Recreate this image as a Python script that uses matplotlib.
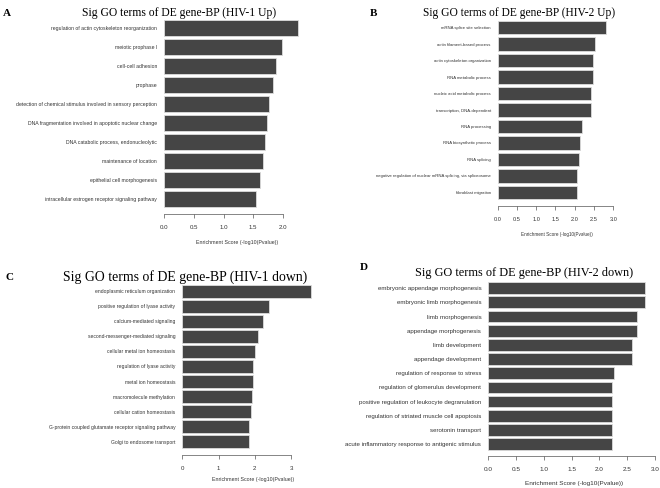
import numpy as np
import matplotlib
matplotlib.use('Agg')
import matplotlib.pyplot as plt

W, H = 660, 488

# panel A: HIV-1 up
terms_a = ['regulation of actin cytoskeleton reorganization', 'meiotic prophase I', 'cell-cell adhesion',
           'prophase', 'detection of chemical stimulus involved in sensory perception',
           'DNA fragmentation involved in apoptotic nuclear change', 'DNA catabolic process, endonucleolytic',
           'maintenance of location', 'epithelial cell morphogenesis',
           'intracellular estrogen receptor signaling pathway']
scores_a = [2.25, 1.98, 1.88, 1.84, 1.77, 1.73, 1.70, 1.66, 1.61, 1.55]
ticks_a = [0.0, 0.5, 1.0, 1.5, 2.0]

# panel B: HIV-2 up
terms_b = ['mRNA splice site selection', 'actin filament-based process', 'actin cytoskeleton organization',
           'RNA metabolic process', 'nucleic acid metabolic process', 'transcription, DNA-dependent',
           'RNA processing', 'RNA biosynthetic process', 'RNA splicing',
           'negative regulation of nuclear mRNA splicing, via spliceosome', 'fibroblast migration']
scores_b = [2.81, 2.53, 2.48, 2.47, 2.42, 2.41, 2.18, 2.14, 2.12, 2.05, 2.05]
ticks_b = [0.0, 0.5, 1.0, 1.5, 2.0, 2.5, 3.0]

# panel C: HIV-1 down
terms_c = ['endoplasmic reticulum organization', 'positive regulation of lyase activity',
           'calcium-mediated signaling', 'second-messenger-mediated signaling', 'cellular metal ion homeostasis',
           'regulation of lyase activity', 'metal ion homeostasis', 'macromolecule methylation',
           'cellular cation homeostasis', 'G-protein coupled glutamate receptor signaling pathway',
           'Golgi to endosome transport']
scores_c = [3.55, 2.38, 2.24, 2.08, 2.02, 1.95, 1.95, 1.93, 1.89, 1.85, 1.85]
ticks_c = [0, 1, 2, 3]

# panel D: HIV-2 down
terms_d = ['embryonic appendage morphogenesis', 'embryonic limb morphogenesis', 'limb morphogenesis',
           'appendage morphogenesis', 'limb development', 'appendage development',
           'regulation of response to stress', 'regulation of glomerulus development',
           'positive regulation of leukocyte degranulation', 'regulation of striated muscle cell apoptosis',
           'serotonin transport', 'acute inflammatory response to antigenic stimulus']
scores_d = [2.82, 2.82, 2.67, 2.67, 2.59, 2.59, 2.27, 2.22, 2.22, 2.22, 2.22, 2.22]
ticks_d = [0.0, 0.5, 1.0, 1.5, 2.0, 2.5, 3.0]

fig = plt.figure(figsize=(6.6, 4.88), dpi=100)
sans = 'Liberation Sans'
serif = 'Liberation Serif'


def draw_panel(terms, scores, ticks, fmt, x0, x_end, top, bottom, axis_y, lab_size, tick_size):
    # x0 / x_end: pixel x of first and last tick; top/bottom: pixel y of first bar top / last bar bottom
    n = len(terms)
    pitch = (bottom - top) / (n - 1 / 6)
    h = pitch / 1.2
    scale = (x_end - x0) / (ticks[-1] - ticks[0])
    right = max(x0 + max(scores) * scale, x_end) + 3
    ax = fig.add_axes([x0 / W, 1 - axis_y / H, (right - x0) / W, (axis_y - top) / H])
    y = np.arange(n)
    ax.barh(y, scores, height=1 / 1.2, color='#454545', edgecolor='#dcdcdc', linewidth=0.6)
    ax.set_xlim(0, (right - x0) / scale)
    ax.set_ylim((axis_y - (top + h / 2)) / pitch, -1 / 2.4)
    for s in ['top', 'right', 'left']:
        ax.spines[s].set_visible(False)
    ax.spines['bottom'].set_bounds(ticks[0], ticks[-1])
    ax.spines['bottom'].set_linewidth(0.5)
    ax.spines['bottom'].set_color('#555555')
    ax.set_xticks(ticks)
    ax.set_xticklabels([fmt.format(t) for t in ticks], fontsize=tick_size, family=sans, color='#333333')
    ax.tick_params(axis='x', length=3, width=0.5, color='#555555', pad=5)
    ax.set_yticks(y)
    ax.set_yticklabels(terms, fontsize=lab_size, family=sans, color='#333333')
    ax.tick_params(axis='y', length=0, pad=5)
    return ax


draw_panel(terms_a, scores_a, ticks_a, '{:.1f}', 164, 283, 20, 207, 214, 3.7, 4.4)
draw_panel(terms_b, scores_b, ticks_b, '{:.1f}', 497.7, 613.3, 20.7, 199.3, 206, 3.1, 4.1)
draw_panel(terms_c, scores_c, ticks_c, '{:d}', 182.3, 291, 285, 448, 455, 3.6, 4.4)
draw_panel(terms_d, scores_d, ticks_d, '{:.1f}', 488.3, 655, 282.3, 450, 456, 4.4, 4.6)

titles = [('Sig GO terms of DE gene-BP (HIV-1 Up)', 179, 13, 8.4),
          ('Sig GO terms of DE gene-BP (HIV-2 Up)', 519.5, 13, 8.3),
          ('Sig GO terms of DE gene-BP (HIV-1 down)', 185, 277, 9.9),
          ('Sig GO terms of DE gene-BP (HIV-2 down)', 524, 272.7, 8.85)]
for txt, x, yy, fs in titles:
    fig.text(x / W, 1 - yy / H, txt, ha='center', va='center', fontsize=fs, family=serif)

letters = [('A', 7, 13), ('B', 373, 13), ('C', 10, 278), ('D', 364, 268)]
for txt, x, yy in letters:
    fig.text(x / W, 1 - yy / H, txt, ha='center', va='center', fontsize=8, family=serif, weight='bold')

xlab = 'Enrichment Score (-log10(Pvalue))'
for x, yy, fs in [(237.5, 242, 3.8), (557.3, 234, 3.3), (253, 479, 3.75), (574, 483, 4.6)]:
    fig.text(x / W, 1 - yy / H, xlab, ha='center', va='center', fontsize=fs, family=sans, color='#333333')

fig.savefig('out.png', dpi=100)
